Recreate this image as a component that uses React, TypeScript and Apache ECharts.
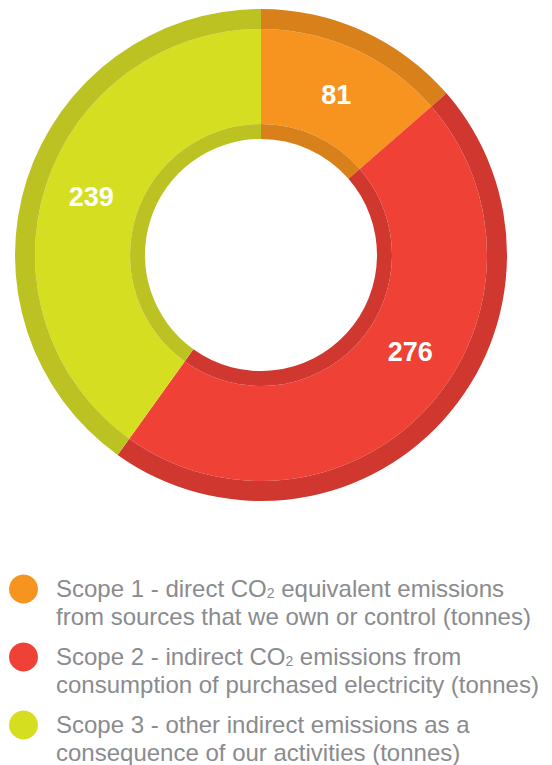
import React, { useEffect, useRef } from "react";
import * as echarts from "echarts";

// Emission totals per scope (tonnes CO2e)
const scopes = ["Scope 1", "Scope 2", "Scope 3"];
const values = [81, 276, 239];
const colors = ["#F6941F", "#EF4136", "#D5DE21"];
const rimColors = ["#D8811B", "#D0372F", "#BCC222"];
// Legend descriptions; {sub|2} renders the subscript of CO2
const descriptions = [
  ["Scope 1 - direct CO{sub|2} equivalent emissions", "from sources that we own or control (tonnes)"],
  ["Scope 2 - indirect CO{sub|2} emissions from", "consumption of purchased electricity (tonnes)"],
  ["Scope 3 - other indirect emissions as a", "consequence of our activities (tonnes)"],
];
const labelOffsets = [
  [0, 5],
  [15, -25],
  [3, -2],
];

export default function App() {
  const ref = useRef<HTMLDivElement>(null);

  useEffect(() => {
    document.body.style.margin = "0";
    if (!ref.current) return;
    const chart = echarts.init(ref.current, undefined, { renderer: "svg" });

    const data = scopes.map((name, i) => ({
      name,
      value: values[i],
      itemStyle: { color: colors[i] },
      label: { offset: labelOffsets[i] },
    }));
    const rimData = scopes.map((name, i) => ({
      name,
      value: values[i],
      itemStyle: { color: rimColors[i] },
    }));

    const center = [261, 255];
    const common = {
      type: "pie" as const,
      center,
      startAngle: 90,
      clockwise: true,
      silent: true,
      label: { show: false },
      labelLine: { show: false },
      emphasis: { disabled: true },
    };

    // Legend: a colour dot beside two lines of description per scope
    const firstLine = 588;
    const groupGap = 68;
    const lineGap = 28;
    const font = "Liberation Sans, Arial, sans-serif";
    const textColor = "#8A8B8E";

    const legendGraphics: any[] = [];
    scopes.forEach((_, i) => {
      const y = firstLine + i * groupGap;
      legendGraphics.push({
        type: "circle",
        shape: { cx: 23.5, cy: y + 1, r: 14.5 },
        style: { fill: colors[i] },
      });
      descriptions[i].forEach((line, j) => {
        legendGraphics.push({
          type: "text",
          x: 56,
          y: y + j * lineGap,
          style: {
            text: line,
            fontFamily: font,
            fontSize: 24,
            lineHeight: 22,
            fill: textColor,
            verticalAlign: "middle",
            rich: {
              sub: {
                fontSize: 14,
                fill: textColor,
                fontFamily: font,
                padding: [9, 0, 0, 0],
                lineHeight: 22,
              },
            },
          },
        });
      });
    });

    chart.setOption({
      animation: false,
      backgroundColor: "#ffffff",
      series: [
        {
          ...common,
          name: "main",
          radius: [131, 226],
          data,
          label: {
            show: true,
            position: "inside",
            formatter: "{c}",
            color: "#ffffff",
            fontSize: 27,
            fontWeight: "bold",
            fontFamily: font,
          },
        },
        { ...common, name: "outerRim", radius: [226, 246], data: rimData },
        { ...common, name: "innerRim", radius: [116, 131], data: rimData },
      ],
      graphic: legendGraphics,
    });

    return () => chart.dispose();
  }, []);

  return <div ref={ref} style={{ width: 552, height: 765 }} />;
}
